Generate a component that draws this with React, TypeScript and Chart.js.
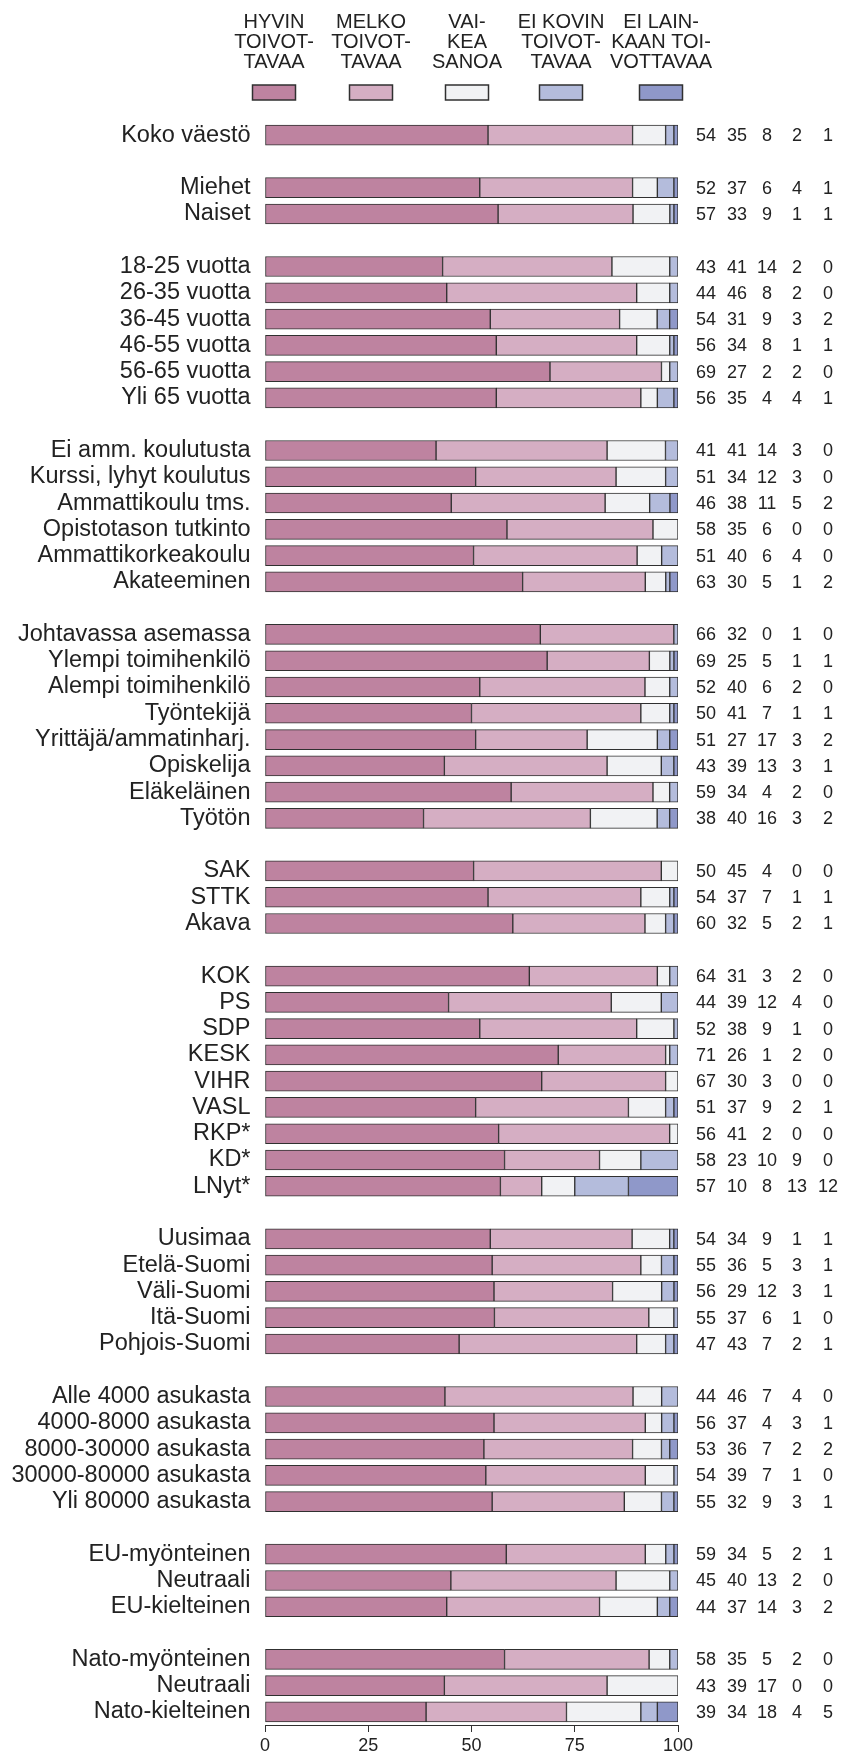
import { useEffect, useRef } from "react";
import { Chart, registerables } from "chart.js";

Chart.register(...registerables);

const categories: string[] = [
  "Koko väestö", "",
  "Miehet", "Naiset", "",
  "18-25 vuotta", "26-35 vuotta", "36-45 vuotta", "46-55 vuotta", "56-65 vuotta", "Yli 65 vuotta", "",
  "Ei amm. koulutusta", "Kurssi, lyhyt koulutus", "Ammattikoulu tms.", "Opistotason tutkinto", "Ammattikorkeakoulu", "Akateeminen", "",
  "Johtavassa asemassa", "Ylempi toimihenkilö", "Alempi toimihenkilö", "Työntekijä", "Yrittäjä/ammatinharj.", "Opiskelija", "Eläkeläinen", "Työtön", "",
  "SAK", "STTK", "Akava", "",
  "KOK", "PS", "SDP", "KESK", "VIHR", "VASL", "RKP*", "KD*", "LNyt*", "",
  "Uusimaa", "Etelä-Suomi", "Väli-Suomi", "Itä-Suomi", "Pohjois-Suomi", "",
  "Alle 4000 asukasta", "4000-8000 asukasta", "8000-30000 asukasta", "30000-80000 asukasta", "Yli 80000 asukasta", "",
  "EU-myönteinen", "Neutraali", "EU-kielteinen", "",
  "Nato-myönteinen", "Neutraali", "Nato-kielteinen",
];

const hyvin: (number | null)[] = [54, null, 52, 57, null, 43, 44, 54, 56, 69, 56, null, 41, 51, 46, 58, 51, 63, null, 66, 69, 52, 50, 51, 43, 59, 38, null, 50, 54, 60, null, 64, 44, 52, 71, 67, 51, 56, 58, 57, null, 54, 55, 56, 55, 47, null, 44, 56, 53, 54, 55, null, 59, 45, 44, null, 58, 43, 39];
const melko: (number | null)[] = [35, null, 37, 33, null, 41, 46, 31, 34, 27, 35, null, 41, 34, 38, 35, 40, 30, null, 32, 25, 40, 41, 27, 39, 34, 40, null, 45, 37, 32, null, 31, 39, 38, 26, 30, 37, 41, 23, 10, null, 34, 36, 29, 37, 43, null, 46, 37, 36, 39, 32, null, 34, 40, 37, null, 35, 39, 34];
const vaikea: (number | null)[] = [8, null, 6, 9, null, 14, 8, 9, 8, 2, 4, null, 14, 12, 11, 6, 6, 5, null, 0, 5, 6, 7, 17, 13, 4, 16, null, 4, 7, 5, null, 3, 12, 9, 1, 3, 9, 2, 10, 8, null, 9, 5, 12, 6, 7, null, 7, 4, 7, 7, 9, null, 5, 13, 14, null, 5, 17, 18];
const eiKovin: (number | null)[] = [2, null, 4, 1, null, 2, 2, 3, 1, 2, 4, null, 3, 3, 5, 0, 4, 1, null, 1, 1, 2, 1, 3, 3, 2, 3, null, 0, 1, 2, null, 2, 4, 1, 2, 0, 2, 0, 9, 13, null, 1, 3, 3, 1, 2, null, 4, 3, 2, 1, 3, null, 2, 2, 3, null, 2, 0, 4];
const eiLainkaan: (number | null)[] = [1, null, 1, 1, null, 0, 0, 2, 1, 0, 1, null, 0, 0, 2, 0, 0, 2, null, 0, 1, 0, 1, 2, 1, 0, 2, null, 0, 1, 1, null, 0, 0, 0, 0, 0, 1, 0, 0, 12, null, 1, 1, 1, 0, 1, null, 0, 1, 2, 0, 1, null, 1, 0, 2, null, 0, 0, 5];

const seriesNames: string[][] = [
  ["HYVIN", "TOIVOT-", "TAVAA"],
  ["MELKO", "TOIVOT-", "TAVAA"],
  ["VAI-", "KEA", "SANOA"],
  ["EI KOVIN", "TOIVOT-", "TAVAA"],
  ["EI LAIN-", "KAAN TOI-", "VOTTAVAA"],
];
const seriesColors = ["#be83a0", "#d5aec3", "#f1f2f4", "#b4bcdc", "#8f98c9"];
const xTicks = [0, 25, 50, 75, 100];

const allSeries = [hyvin, melko, vaikea, eiKovin, eiLainkaan];

const TEXT = "#222222";
const EDGE = "#303030";
const numX = [706, 737, 767, 797, 828];
const legendX = [274, 371, 467, 561, 661];

function shares(k: number): (number | null)[] {
  return categories.map((_, i) => {
    const v = allSeries[k][i];
    if (v === null) return null;
    let sum = 0;
    allSeries.forEach((s) => (sum += s[i] as number));
    return (v / sum) * 100;
  });
}

const extraPlugin = {
  id: "extraText",
  afterDraw(chart: any) {
    const ctx = chart.ctx as CanvasRenderingContext2D;
    const y = chart.scales.y;
    ctx.save();
    ctx.fillStyle = TEXT;
    ctx.font = '18px "Liberation Sans", Arial, sans-serif';
    ctx.textAlign = "center";
    ctx.textBaseline = "middle";
    categories.forEach((_, i) => {
      if (hyvin[i] === null) return;
      const py = y.getPixelForValue(i);
      allSeries.forEach((s, k) => {
        ctx.fillText(String(s[i]), numX[k], py + 1);
      });
    });
    // legend
    ctx.font = '20px "Liberation Sans Narrow", "Liberation Sans", Arial, sans-serif';
    ctx.textBaseline = "alphabetic";
    seriesNames.forEach((lines, k) => {
      lines.forEach((ln, j) => {
        ctx.fillText(ln, legendX[k], 28 + j * 20);
      });
      ctx.fillStyle = seriesColors[k];
      ctx.fillRect(legendX[k] - 21.5, 85, 43, 15);
      ctx.strokeStyle = EDGE;
      ctx.lineWidth = 1.5;
      ctx.strokeRect(legendX[k] - 21.5, 85, 43, 15);
      ctx.fillStyle = TEXT;
    });
    ctx.restore();
  },
};

export default function App() {
  const ref = useRef<HTMLCanvasElement | null>(null);
  useEffect(() => {
    if (!ref.current) return;
    const chart = new Chart(ref.current, {
      type: "bar",
      data: {
        labels: categories,
        datasets: allSeries.map((_, k) => ({
          label: seriesNames[k].join(" "),
          data: shares(k),
          backgroundColor: seriesColors[k],
          borderColor: EDGE,
          borderWidth: 1,
          borderSkipped: false,
          barThickness: 20,
        })),
      },
      options: {
        indexAxis: "y",
        responsive: false,
        maintainAspectRatio: false,
        animation: false,
        devicePixelRatio: 1,
        layout: { padding: { top: 122, right: 163, left: 0, bottom: 0 } },
        plugins: {
          legend: { display: false },
          tooltip: { enabled: false },
        },
        scales: {
          x: {
            stacked: true,
            min: 0,
            max: 100,
            afterBuildTicks: (s: any) => {
              s.ticks = xTicks.map((v) => ({ value: v }));
            },
            afterFit: (s: any) => {
              s.height = 33;
            },
            ticks: {
              color: TEXT,
              font: { family: '"Liberation Sans", Arial, sans-serif', size: 18 },
              padding: 3,
              maxRotation: 0,
            },
            grid: {
              display: true,
              drawOnChartArea: false,
              drawTicks: true,
              tickLength: 7,
              color: EDGE,
              lineWidth: 1,
            },
            border: { display: true, color: EDGE, width: 1 },
          },
          y: {
            stacked: true,
            afterFit: (s: any) => {
              s.width = 265;
            },
            ticks: {
              autoSkip: false,
              color: TEXT,
              font: { family: '"Liberation Sans", Arial, sans-serif', size: 23.5 },
              padding: 14.5,
            },
            grid: { display: false, drawTicks: false },
            border: { display: false },
          },
        },
      },
      plugins: [extraPlugin],
    });
    return () => chart.destroy();
  }, []);
  return (
    <div style={{ position: "absolute", left: 0, top: 0, width: 841, height: 1758, background: "#fff" }}>
      <canvas ref={ref} width={841} height={1758} style={{ display: "block", width: 841, height: 1758 }} />
    </div>
  );
}
